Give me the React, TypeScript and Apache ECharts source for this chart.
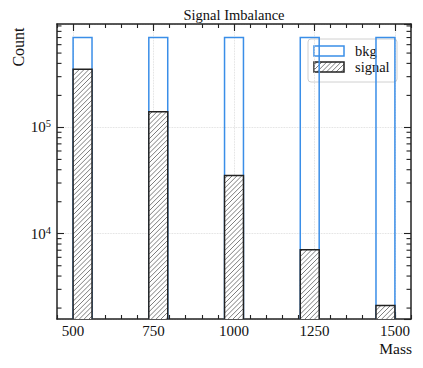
import React, { useEffect, useRef } from 'react';
import * as echarts from 'echarts';

// ---- data ----
const massTicks = [500, 750, 1000, 1250, 1500];
const binLow = [500, 735.3, 970.6, 1205.9, 1441.2];
const binHigh = [558.8, 794.1, 1029.4, 1264.7, 1500];
const bkgCounts = [702000, 702000, 702000, 702000, 702000];
const signalCounts = [352000, 140700, 35300, 7070, 2110];
const yMinorTicks = [
  2000, 3000, 4000, 5000, 6000, 7000, 8000, 9000,
  20000, 30000, 40000, 50000, 60000, 70000, 80000, 90000,
  200000, 300000, 400000, 500000, 600000, 700000, 800000, 900000,
];
const xRange = [450, 1550];
const xMinorStep = 50;
const seriesNames = ['bkg', 'signal'];
const titleText = 'Signal Imbalance';
const xLabel = 'Mass';
const yLabel = 'Count';

// ---- styles ----
const FONT = "'Liberation Serif', 'DejaVu Serif', serif";
const BLUE = '#3a8ee8';
const DARK = '#222222';
const HATCH = '#444444';
const HATCH_STEP = 4.8;

function hatchLines(x0: number, y0: number, x1: number, y1: number, step: number) {
  const out: number[][] = [];
  const cStart = Math.ceil((x0 + y0) / step) * step;
  for (let c = cStart; c <= x1 + y1; c += step) {
    const xa = Math.max(x0, c - y1);
    const xb = Math.min(x1, c - y0);
    if (xb - xa > 0.05) out.push([xa, c - xa, xb, c - xb]);
  }
  return out;
}

function hatchElements(x0: number, y0: number, x1: number, y1: number) {
  return hatchLines(x0, y0, x1, y1, HATCH_STEP).map((s) => ({
    type: 'line',
    shape: { x1: s[0], y1: s[1], x2: s[2], y2: s[3] },
    style: { stroke: HATCH, lineWidth: 0.7 },
    silent: true,
  }));
}

export default function App() {
  const ref = useRef<HTMLDivElement>(null);

  useEffect(() => {
    if (!ref.current) return;
    const chart = echarts.init(ref.current, undefined, { renderer: 'svg' });

    const lmin = Math.log10(Math.min(...signalCounts));
    const lmax = Math.log10(Math.max(...bkgCounts));
    const pad = 0.05 * (lmax - lmin);
    const yMin = Math.pow(10, lmin - pad);
    const yMax = Math.pow(10, lmax + pad);

    const axisLine = { show: true, onZero: false, lineStyle: { color: DARK, width: 1.5 } };
    const tickStyle = { color: DARK, width: 1.1 };
    const gridLine = { show: true, lineStyle: { color: '#d6d6d6', width: 0.8, type: 'dotted' } };

    const bkgData = binLow.map((lo, i) => [lo, binHigh[i], bkgCounts[i]]);
    const sigData = binLow.map((lo, i) => [lo, binHigh[i], signalCounts[i]]);

    const option: any = {
      animation: false,
      backgroundColor: '#ffffff',
      grid: { left: 57, right: 12, top: 24, bottom: 49, containLabel: false, outerBoundsMode: 'none' },
      xAxis: [
        {
          type: 'value', min: xRange[0], max: xRange[1], position: 'bottom',
          axisLine,
          axisTick: { show: true, inside: true, length: 7, customValues: massTicks, lineStyle: tickStyle },
          axisLabel: {
            show: true, customValues: massTicks, margin: 4, fontSize: 15, fontFamily: FONT, color: '#111',
            formatter: (v: number) => String(v),
          },
          splitLine: gridLine,
        },
        {
          type: 'value', min: xRange[0], max: xRange[1], interval: xMinorStep, position: 'bottom',
          axisLine: { show: false },
          axisTick: { show: true, inside: true, length: 4, lineStyle: tickStyle },
          axisLabel: { show: false }, splitLine: { show: false },
        },
        {
          type: 'value', min: xRange[0], max: xRange[1], position: 'top',
          axisLine,
          axisTick: { show: true, inside: true, length: 7, customValues: massTicks, lineStyle: tickStyle },
          axisLabel: { show: false }, splitLine: { show: false },
        },
        {
          type: 'value', min: xRange[0], max: xRange[1], interval: xMinorStep, position: 'top',
          axisLine: { show: false },
          axisTick: { show: true, inside: true, length: 4, lineStyle: tickStyle },
          axisLabel: { show: false }, splitLine: { show: false },
        },
      ],
      yAxis: [
        {
          type: 'log', logBase: 10, min: yMin, max: yMax, position: 'left',
          axisLine,
          axisTick: { show: true, inside: true, length: 7, lineStyle: tickStyle },
          axisLabel: {
            show: true, margin: 6, showMinLabel: false, showMaxLabel: false,
            formatter: (v: number) => {
              const e = Math.log10(v);
              const r = Math.round(e);
              return Math.abs(e - r) < 1e-6 ? '{b|10}{s|' + r + '}' : '';
            },
            rich: {
              b: { fontSize: 15, fontFamily: FONT, color: '#111', lineHeight: 18 },
              s: { fontSize: 10.5, fontFamily: FONT, color: '#111', lineHeight: 10, verticalAlign: 'top' },
            },
          },
          splitLine: gridLine,
        },
        {
          type: 'log', logBase: 10, min: yMin, max: yMax, position: 'right',
          axisLine,
          axisTick: { show: true, inside: true, length: 7, lineStyle: tickStyle },
          axisLabel: { show: false }, splitLine: { show: false },
        },
      ],
      series: [
        {
          name: seriesNames[0],
          type: 'custom',
          xAxisIndex: 0, yAxisIndex: 0,
          encode: { x: [0, 1], y: 2 },
          data: bkgData,
          z: 3,
          renderItem: (params: any, api: any) => {
            const p0 = api.coord([api.value(0), api.value(2)]);
            const p1 = api.coord([api.value(1), api.value(2)]);
            const cs = params.coordSys;
            const bottom = cs.y + cs.height;
            return {
              type: 'polyline',
              shape: { points: [[p0[0], bottom], [p0[0], p0[1]], [p1[0], p0[1]], [p1[0], bottom]] },
              style: { fill: 'none', stroke: BLUE, lineWidth: 1.5 },
            };
          },
        },
        {
          name: seriesNames[1],
          type: 'custom',
          xAxisIndex: 0, yAxisIndex: 0,
          encode: { x: [0, 1], y: 2 },
          data: sigData,
          z: 4,
          renderItem: (params: any, api: any) => {
            const p0 = api.coord([api.value(0), api.value(2)]);
            const p1 = api.coord([api.value(1), api.value(2)]);
            const cs = params.coordSys;
            const bottom = cs.y + cs.height;
            const x0 = p0[0], x1 = p1[0], top = p0[1];
            return {
              type: 'group',
              children: [
                { type: 'rect', shape: { x: x0, y: top, width: x1 - x0, height: bottom - top }, style: { fill: '#ffffff' } },
                ...hatchElements(x0, top, x1, bottom),
                {
                  type: 'polyline',
                  shape: { points: [[x0, bottom], [x0, top], [x1, top], [x1, bottom]] },
                  style: { fill: 'none', stroke: DARK, lineWidth: 1.5 },
                },
              ],
            };
          },
        },
        {
          name: 'yMinorTicks',
          type: 'custom',
          xAxisIndex: 0, yAxisIndex: 0,
          data: yMinorTicks.map((v) => [xRange[0], v]),
          z: 10,
          silent: true,
          renderItem: (params: any, api: any) => {
            const y = api.coord([api.value(0), api.value(1)])[1];
            const cs = params.coordSys;
            return {
              type: 'group',
              children: [
                { type: 'line', shape: { x1: cs.x, y1: y, x2: cs.x + 4.5, y2: y }, style: { stroke: DARK, lineWidth: 1.1 } },
                { type: 'line', shape: { x1: cs.x + cs.width - 4.5, y1: y, x2: cs.x + cs.width, y2: y }, style: { stroke: DARK, lineWidth: 1.1 } },
              ],
            };
          },
        },
      ],
      graphic: [
        {
          type: 'text', x: 234, y: 15,
          style: { text: titleText, fontSize: 14.5, fontFamily: FONT, fill: '#111', align: 'center', verticalAlign: 'middle' },
        },
        {
          type: 'text', x: 18, y: 47, rotation: Math.PI / 2,
          style: { text: yLabel, fontSize: 16, fontFamily: FONT, fill: '#111', align: 'center', verticalAlign: 'middle' },
        },
        {
          type: 'text', x: 412, y: 348,
          style: { text: xLabel, fontSize: 15.5, fontFamily: FONT, fill: '#111', align: 'right', verticalAlign: 'middle' },
        },
        {
          type: 'group', z: 50,
          children: [
            {
              type: 'rect', shape: { x: 308, y: 39, width: 89, height: 43, r: 3 },
              style: { fill: 'rgba(255,255,255,0.8)', stroke: '#d0d0d0', lineWidth: 1 },
            },
            {
              type: 'rect', shape: { x: 314, y: 46, width: 30, height: 10 },
              style: { fill: '#ffffff', stroke: BLUE, lineWidth: 1.5 },
            },
            { type: 'rect', shape: { x: 314, y: 62, width: 30, height: 10 }, style: { fill: '#ffffff' } },
            ...hatchElements(314, 62, 344, 72),
            {
              type: 'rect', shape: { x: 314, y: 62, width: 30, height: 10 },
              style: { fill: 'none', stroke: DARK, lineWidth: 1.5 },
            },
            {
              type: 'text', x: 355, y: 51,
              style: { text: seriesNames[0], fontSize: 14.5, fontFamily: FONT, fill: '#111', align: 'left', verticalAlign: 'middle' },
            },
            {
              type: 'text', x: 355, y: 67,
              style: { text: seriesNames[1], fontSize: 14.5, fontFamily: FONT, fill: '#111', align: 'left', verticalAlign: 'middle' },
            },
          ],
        },
      ],
    };

    chart.setOption(option);
    return () => chart.dispose();
  }, []);

  return (
    <div
      ref={ref}
      style={{ position: 'fixed', left: 0, top: 0, width: 423, height: 368, background: '#fff' }}
    />
  );
}
